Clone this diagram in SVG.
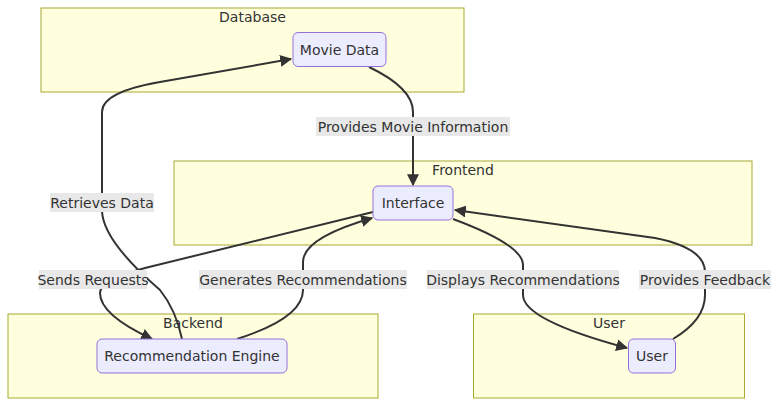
<svg xmlns="http://www.w3.org/2000/svg" width="779" height="406" viewBox="0 0 779 406">
<style>
text{font-family:"DejaVu Sans",Verdana,sans-serif;font-size:14px;fill:#333333;text-anchor:middle;dominant-baseline:central}
.cluster rect{fill:#ffffde;stroke:#aaaa33;stroke-width:1}
.node rect{fill:#ececff;stroke:#9370db;stroke-width:1}
.edge{fill:none;stroke:#333333;stroke-width:2}
.lbl{fill:#e8e8e8}
</style>
<defs>
<marker id="arr" viewBox="0 0 10 10" refX="9" refY="5" markerUnits="userSpaceOnUse" markerWidth="12" markerHeight="12" orient="auto">
<path d="M0,0 L10,5 L0,10 z" fill="#333333"/>
</marker>
</defs>
<rect width="779" height="406" fill="#ffffff"/>
<g id="clusters">
<g id="Database" class="cluster"><rect x="41" y="8" width="423" height="84"/><text x="252.5" y="17">Database</text></g>
<g id="Frontend" class="cluster"><rect x="174" y="161" width="578" height="84"/><text x="463" y="170">Frontend</text></g>
<g id="Backend" class="cluster"><rect x="8" y="314" width="370" height="84"/><text x="193" y="323">Backend</text></g>
<g id="UserCluster" class="cluster"><rect x="473.5" y="314" width="271" height="84"/><text x="609" y="323">User</text></g>
</g>
<g id="connectors">
<path class="edge" d="M182,339 Q176,310 160,290 Q102,240 102,210 L102,112 Q102,92 160,82 L291,59" marker-end="url(#arr)"/>
<path class="edge" d="M369,67 Q413,88 413,112 L413,185" marker-end="url(#arr)"/>
<path class="edge" d="M373,212 L145,268 Q100,280 100,293 Q100,315 152,339" marker-end="url(#arr)"/>
<path class="edge" d="M237,339 Q303,318 303,290 L303,262 Q303,238 372,218" marker-end="url(#arr)"/>
<path class="edge" d="M453,219 Q523,245 523,265 L523,295 Q523,320 627,348" marker-end="url(#arr)"/>
<path class="edge" d="M673,339 Q705,320 705,295 L705,272 Q705,248 655,238 L455,210" marker-end="url(#arr)"/>
</g>
<g id="edge-labels">
<g><rect class="lbl" x="316" y="117" width="194" height="19"/><text x="413" y="126.5">Provides Movie Information</text></g>
<g><rect class="lbl" x="50" y="193" width="104" height="19"/><text x="102" y="202.5">Retrieves Data</text></g>
<g><rect class="lbl" x="39" y="270" width="108" height="19"/><text x="93" y="279.5">Sends Requests</text></g>
<g><rect class="lbl" x="199" y="270" width="208" height="19"/><text x="303" y="279.5">Generates Recommendations</text></g>
<g><rect class="lbl" x="427" y="270" width="192" height="19"/><text x="523" y="279.5">Displays Recommendations</text></g>
<g><rect class="lbl" x="639" y="270" width="132" height="19"/><text x="705" y="279.5">Provides Feedback</text></g>
</g>
<g id="MovieData" class="node"><rect x="293" y="32.5" width="93" height="34" rx="5"/><text x="339.5" y="49.5">Movie Data</text></g>
<g id="Interface" class="node"><rect x="373" y="186" width="80" height="34" rx="5"/><text x="413" y="203">Interface</text></g>
<g id="RecEngine" class="node"><rect x="97" y="339" width="190" height="34" rx="5"/><text x="192" y="356">Recommendation Engine</text></g>
<g id="User" class="node"><rect x="628.5" y="339" width="47" height="34" rx="5"/><text x="652" y="356">User</text></g>
</svg>
